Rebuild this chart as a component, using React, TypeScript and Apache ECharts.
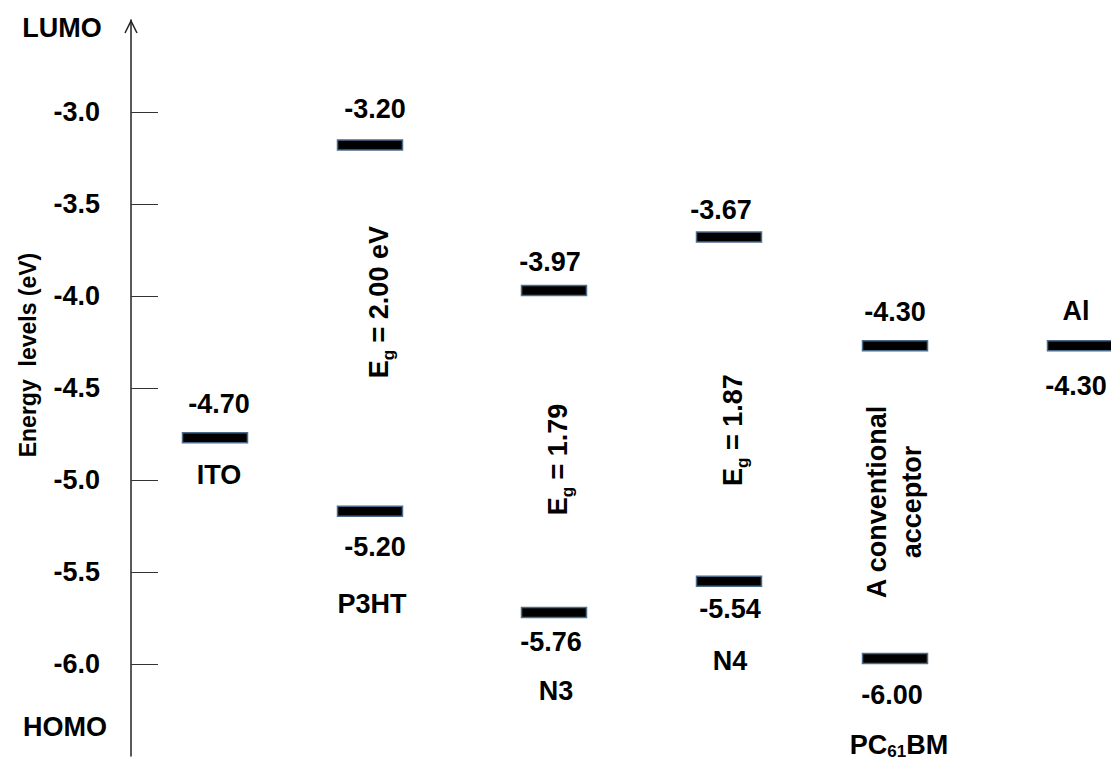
import React, { useEffect, useRef } from "react";
import * as echarts from "echarts";

// ---- data ----
const materials = ["ITO", "P3HT", "N3", "N4", "PC61BM", "Al"];
const materialsDisplay = ["ITO", "P3HT", "N3", "N4", "PC{sub|61}BM", "Al"];
// level positions as drawn (eV)
const lumoLevels = [-4.77, -3.18, -3.97, -3.68, -4.27, -4.27];
const homoLevels: (number | null)[] = [null, -5.17, -5.72, -5.55, -5.97, null];
// printed level labels
const lumoLabels = ["-4.70", "-3.20", "-3.97", "-3.67", "-4.30", "-4.30"];
const homoLabels = ["", "-5.20", "-5.76", "-5.54", "-6.00", ""];
const gapNotes = ["", "E{sub|g} = 2.00 eV", "E{sub|g} = 1.79", "E{sub|g} = 1.87", "A conventional\nacceptor", ""];
const yTicks = [-6.0, -5.5, -5.0, -4.5, -4.0, -3.5, -3.0];
const yAxisTitle = "Energy  levels (eV)";

// ---- layout (pixels) ----
const COL_X = [84, 239, 423, 598, 764, 949]; // column centres, px from the axis line
type Lay = { col: number; ref: "lumo" | "homo" | "mid"; kind: "lumo" | "homo" | "name" | "note"; dx: number; dy: number };
const labelLayout: Lay[] = [
  { col: 0, ref: "lumo", kind: "lumo", dx: 4, dy: -34 },
  { col: 0, ref: "lumo", kind: "name", dx: 4, dy: 37 },
  { col: 1, ref: "lumo", kind: "lumo", dx: 5, dy: -36 },
  { col: 1, ref: "homo", kind: "homo", dx: 5, dy: 36 },
  { col: 1, ref: "homo", kind: "name", dx: 2, dy: 93 },
  { col: 1, ref: "mid", kind: "note", dx: 9, dy: -26 },
  { col: 2, ref: "lumo", kind: "lumo", dx: -4, dy: -28 },
  { col: 2, ref: "homo", kind: "homo", dx: -3, dy: 30 },
  { col: 2, ref: "homo", kind: "name", dx: 2, dy: 79 },
  { col: 2, ref: "mid", kind: "note", dx: 4, dy: 8 },
  { col: 3, ref: "lumo", kind: "lumo", dx: -8, dy: -27 },
  { col: 3, ref: "homo", kind: "homo", dx: 1, dy: 28 },
  { col: 3, ref: "homo", kind: "name", dx: 1, dy: 80 },
  { col: 3, ref: "mid", kind: "note", dx: 4, dy: 21 },
  { col: 4, ref: "lumo", kind: "lumo", dx: 0, dy: -34 },
  { col: 4, ref: "homo", kind: "homo", dx: -3, dy: 37 },
  { col: 4, ref: "homo", kind: "name", dx: 4, dy: 87 },
  { col: 4, ref: "mid", kind: "note", dx: -1, dy: 0 },
  { col: 5, ref: "lumo", kind: "name", dx: -4, dy: -35 },
  { col: 5, ref: "lumo", kind: "lumo", dx: -4, dy: 40 },
];

const FONT = '"Liberation Sans", Arial, Helvetica, sans-serif';
const FS = 27;

export default function App() {
  const ref = useRef<HTMLDivElement>(null);
  useEffect(() => {
    if (!ref.current) return;
    const chart = echarts.init(ref.current, null, { renderer: "svg" });

    const barData: number[][] = [];
    materials.forEach((_, i) => {
      barData.push([COL_X[i], lumoLevels[i]]);
      const h = homoLevels[i];
      if (h !== null) barData.push([COL_X[i], h]);
    });

    const textData = labelLayout.map((l, idx) => {
      const lu = lumoLevels[l.col];
      const ho = homoLevels[l.col] ?? lu;
      const y = l.ref === "lumo" ? lu : l.ref === "homo" ? ho : (lu + ho) / 2;
      return [COL_X[l.col], y, idx];
    });

    const sub = { fontSize: 17, fontWeight: "bold", fontFamily: FONT, lineHeight: 6, verticalAlign: "bottom", fill: "#000" };

    chart.setOption({
      animation: false,
      backgroundColor: "#fff",
      grid: { left: 131, right: 0, top: 20, bottom: 11 },
      xAxis: { type: "value", min: 0, max: 980, show: false },
      yAxis: {
        type: "value",
        min: -6.5,
        max: -2.5,
        interval: 0.5,
        axisLine: { show: true, lineStyle: { color: "#222", width: 1.5 } },
        axisTick: { show: true, inside: true, length: 27, customValues: yTicks, lineStyle: { color: "#333", width: 1 } },
        axisLabel: {
          customValues: yTicks,
          margin: 31,
          fontFamily: FONT,
          fontWeight: "bold",
          fontSize: FS,
          color: "#000",
          formatter: (v: number) => v.toFixed(1),
        },
        splitLine: { show: false },
      },
      graphic: [
        { type: "polyline", shape: { points: [[125, 33], [131, 21], [137, 33]] }, style: { stroke: "#222", lineWidth: 1.5, fill: "none" } },
        { type: "text", x: 62, y: 28, style: { text: "LUMO", fontFamily: FONT, fontWeight: "bold", fontSize: FS, fill: "#000", align: "center", verticalAlign: "middle" } },
        { type: "text", x: 65, y: 727, style: { text: "HOMO", fontFamily: FONT, fontWeight: "bold", fontSize: FS, fill: "#000", align: "center", verticalAlign: "middle" } },
        { type: "text", x: 28, y: 355, rotation: Math.PI / 2, style: { text: yAxisTitle, fontFamily: FONT, fontWeight: "bold", fontSize: 23, fill: "#000", align: "center", verticalAlign: "middle" } },
      ],
      series: [
        {
          type: "custom",
          clip: false,
          data: barData,
          renderItem: (params: any, api: any) => {
            const p = api.coord([api.value(0), api.value(1)]);
            return {
              type: "rect",
              shape: { x: p[0] - 32.5, y: p[1] - 5, width: 65, height: 10 },
              style: { fill: "#000", stroke: "#4d6b8a", lineWidth: 1.5 },
            };
          },
        },
        {
          type: "custom",
          clip: false,
          data: textData,
          renderItem: (params: any, api: any) => {
            const l = labelLayout[api.value(2)];
            const p = api.coord([api.value(0), api.value(1)]);
            let text = "";
            if (l.kind === "lumo") text = lumoLabels[l.col];
            else if (l.kind === "homo") text = homoLabels[l.col];
            else if (l.kind === "name") text = materialsDisplay[l.col];
            else text = gapNotes[l.col];
            const isNote = l.kind === "note";
            return {
              type: "text",
              x: p[0] + l.dx,
              y: p[1] + l.dy,
              rotation: isNote ? Math.PI / 2 : 0,
              style: {
                text,
                fontFamily: FONT,
                fontWeight: "bold",
                fontSize: FS,
                lineHeight: isNote ? 35 : 30,
                fill: "#000",
                align: "center",
                verticalAlign: "middle",
                rich: { sub },
              },
            };
          },
        },
      ],
    });
    return () => chart.dispose();
  }, []);
  return <div ref={ref} style={{ position: "fixed", left: 0, top: 0, width: 1111, height: 767 }} />;
}
